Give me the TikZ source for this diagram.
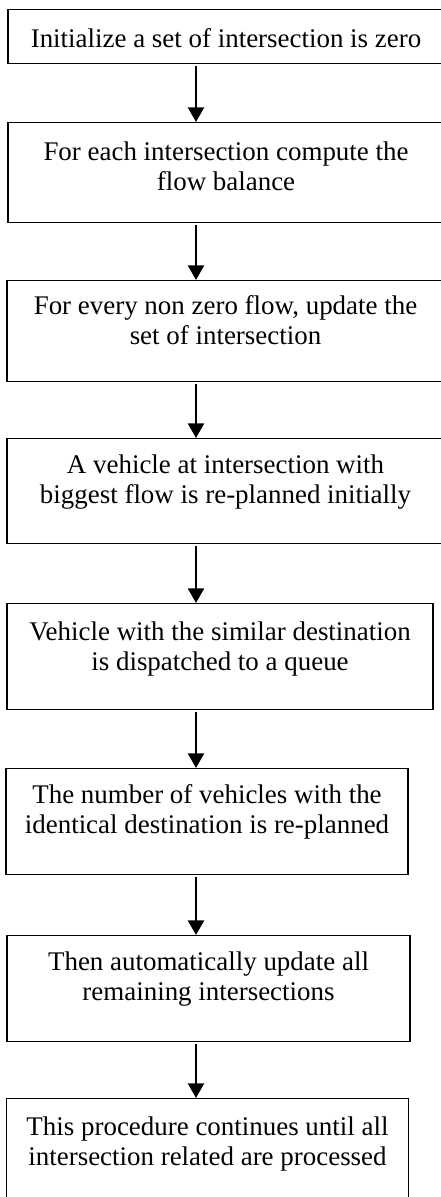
\documentclass[tikz,border=0pt]{standalone}
\usepackage{fontspec}
\setmainfont{Liberation Serif}
\usetikzlibrary{arrows.meta,positioning}

\begin{document}
\begin{tikzpicture}[
  x=0.75pt,
  y=-0.75pt,
  >={Triangle[length=11pt,width=12pt]},
  stepbox/.style={
    draw=black,
    line width=1.1pt,
    inner xsep=0pt,
    inner ysep=0pt,
    anchor=north,
    align=center,
    text height=48.75pt,
    font=\fontsize{20.2pt}{22.6pt}\selectfont
  },
  flow/.style={
    ->,
    line width=1.8pt,
    shorten <=1.5pt
  }
]

\useasboundingbox (0,0) rectangle (441,1197);

% arrow column
\coordinate (ax) at (196,0);

\node[stepbox, minimum width=327pt, text height=28.5pt, text depth=12pt] (init) at (226,9)
  {Initialize a set of intersection is zero};

\node[stepbox, minimum width=327pt, text height=51pt, text depth=24pt] (balance) at (226,122)
  {For each intersection compute the\\flow balance};

\node[stepbox, minimum width=327.75pt, text height=48pt, text depth=27.75pt] (update) at (225.5,280)
  {For every non zero flow, update the\\set of intersection};

\node[stepbox, minimum width=327.75pt, text depth=30pt] (biggest) at (225.5,438)
  {A vehicle at intersection with\\biggest flow is re-planned initially};

\node[stepbox, minimum width=319.5pt, text height=50.25pt, text depth=29.25pt] (queue) at (220,603)
  {Vehicle with the similar destination\\is dispatched to a queue};

\node[stepbox, minimum width=301.5pt, text depth=30.75pt] (replan) at (207,768)
  {The number of vehicles with the\\identical destination is re-planned};

\node[stepbox, minimum width=302.25pt, text depth=30.75pt] (remain) at (208.5,935)
  {Then automatically update all\\remaining intersections};

\node[stepbox, minimum width=301.5pt, text height=50.25pt, text depth=30pt] (until) at (207.5,1098)
  {This procedure continues until all\\intersection related are processed};

% sequence of steps
\draw[flow] (init.south -| ax) -- (balance.north -| ax);
\draw[flow] (balance.south -| ax) -- (update.north -| ax);
\draw[flow] (update.south -| ax) -- (biggest.north -| ax);
\draw[flow] (biggest.south -| ax) -- (queue.north -| ax);
\draw[flow] (queue.south -| ax) -- (replan.north -| ax);
\draw[flow] (replan.south -| ax) -- (remain.north -| ax);
\draw[flow] (remain.south -| ax) -- (until.north -| ax);

\end{tikzpicture}
\end{document}
